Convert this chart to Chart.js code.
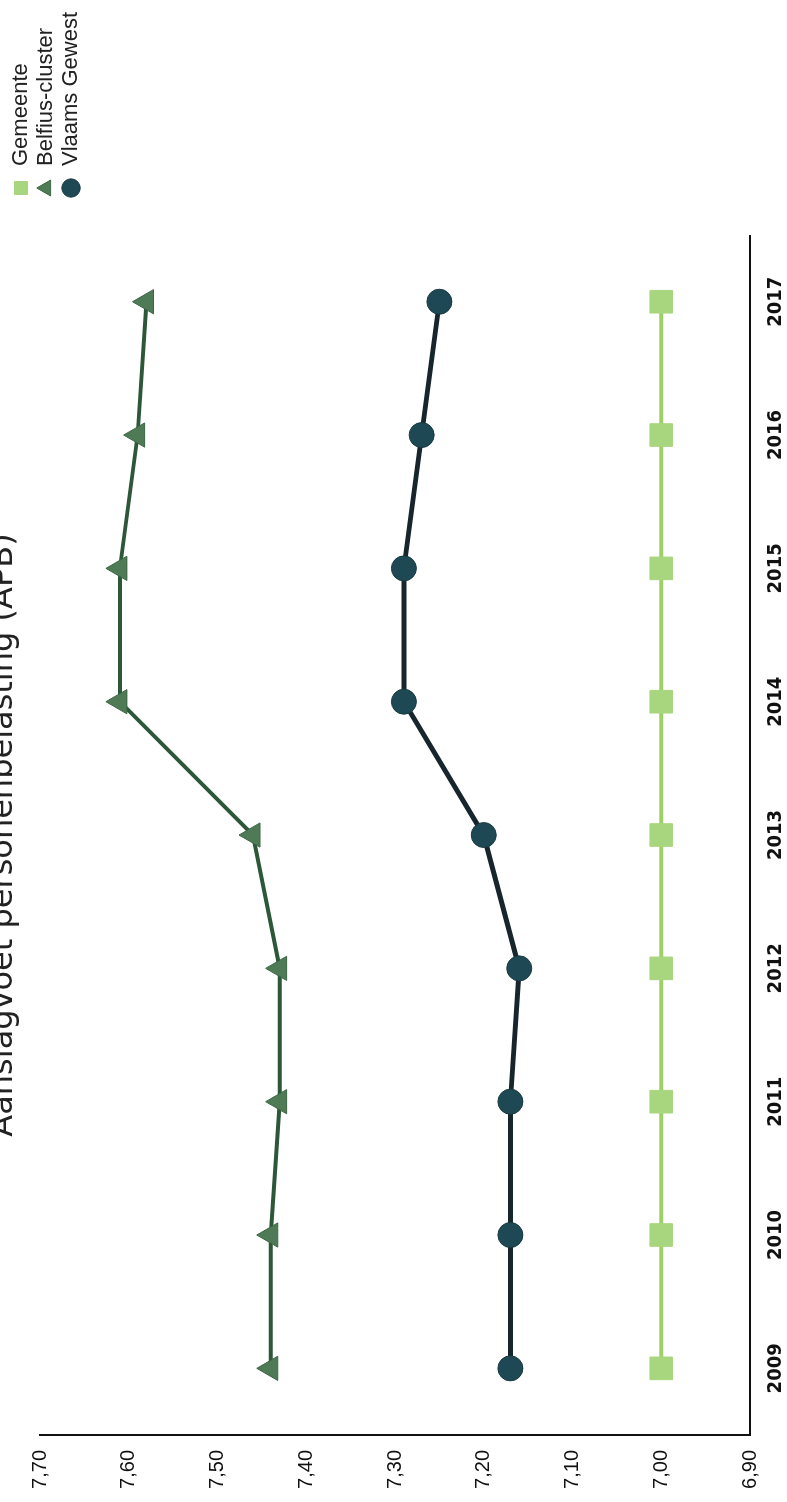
<!DOCTYPE html>
<html>
<head>
<meta charset="utf-8">
<script src="https://cdn.jsdelivr.net/npm/chart.js@4.4.1/dist/chart.umd.min.js"></script>
<style>
  html, body { margin: 0; padding: 0; background: #fff; }
  body { width: 787px; height: 1502px; overflow: hidden; position: relative; }
  /* the scan is turned a quarter turn: draw a landscape chart and rotate it */
  #turn {
    position: absolute; left: 0; top: 0;
    width: 1502px; height: 787px; overflow: hidden;
    transform-origin: 0 0;
    transform: translate(0, 1502px) rotate(-90deg);
  }
  #holder { position: absolute; left: 0; top: -30px; width: 1502px; height: 817px; }
</style>
</head>
<body>
<div id="turn"><div id="holder"><canvas id="apbChart" width="1502" height="817"></canvas></div></div>
<script>
// Data
const years = ["2009", "2010", "2011", "2012", "2013", "2014", "2015", "2016", "2017"];
const gemeente = [7.00, 7.00, 7.00, 7.00, 7.00, 7.00, 7.00, 7.00, 7.00];
const belfiusCluster = [7.44, 7.44, 7.43, 7.43, 7.46, 7.61, 7.61, 7.59, 7.58];
const vlaamsGewest = [7.17, 7.17, 7.17, 7.16, 7.20, 7.29, 7.29, 7.27, 7.25];
const yMin = 6.90;
const yMax = 7.70;
const yStep = 0.10;

const LEGEND_LEFT = 1300;
const LEGEND_TOP = 37;

// Put the legend in the top right corner, like the scan
const legendCorner = {
  id: "legendCorner",
  afterLayout(chart) {
    const lg = chart.legend;
    if (!lg) return;
    const w = lg.width, h = lg.height;
    lg.left = LEGEND_LEFT; lg.right = LEGEND_LEFT + w;
    lg.top = LEGEND_TOP; lg.bottom = LEGEND_TOP + h;
  }
};

const ctx = document.getElementById("apbChart").getContext("2d");
new Chart(ctx, {
  type: "line",
  data: {
    labels: years,
    datasets: [
      {
        label: "Gemeente",
        data: gemeente,
        borderColor: "#9fd068",
        backgroundColor: "#a8d67f",
        borderWidth: 4,
        pointStyle: "rect",
        pointRadius: 16,
        pointBackgroundColor: "#a8d67f",
        pointBorderColor: "#a8d67f",
        pointBorderWidth: 1,
        tension: 0
      },
      {
        label: "Belfius-cluster",
        data: belfiusCluster,
        borderColor: "#2c5738",
        backgroundColor: "#4e7b56",
        borderWidth: 4,
        pointStyle: "triangle",
        pointRadius: 14,
        pointBackgroundColor: "#4e7b56",
        pointBorderColor: "#3d6646",
        pointBorderWidth: 1,
        tension: 0
      },
      {
        label: "Vlaams Gewest",
        data: vlaamsGewest,
        borderColor: "#17262d",
        backgroundColor: "#1e4853",
        borderWidth: 5,
        pointStyle: "circle",
        pointRadius: 12.5,
        pointBackgroundColor: "#1e4853",
        pointBorderColor: "#1a3a42",
        pointBorderWidth: 1,
        tension: 0
      }
    ]
  },
  options: {
    responsive: false,
    animation: false,
    layout: { padding: { top: 0, right: 35, bottom: 0, left: 0 } },
    plugins: {
      title: {
        display: true,
        text: "Aanslagvoet personenbelasting (APB)",
        fullSize: false,
        color: "#222",
        font: { family: "'DejaVu Sans', sans-serif", size: 32, weight: "normal", lineHeight: 1.2 },
        padding: { top: 14.2, bottom: 17.4 }
      },
      legend: {
        position: "right",
        align: "start",
        labels: {
          usePointStyle: true,
          boxHeight: 13,
          padding: 3,
          color: "#222",
          font: { family: "'Liberation Sans', Arial, sans-serif", size: 22 }
        }
      },
      tooltip: { enabled: false }
    },
    scales: {
      x: {
        type: "category",
        offset: true,
        grid: { display: false, drawTicks: false },
        border: { display: true, color: "#111", width: 2 },
        ticks: {
          color: "#111",
          padding: 14,
          maxRotation: 0,
          font: { family: "'Liberation Sans Narrow', 'DejaVu Sans Condensed', Arial, sans-serif", size: 20, weight: "bold" }
        },
        afterFit: (scale) => { scale.height = 37; }
      },
      y: {
        min: yMin,
        max: yMax,
        grid: { display: false, drawTicks: false },
        border: { display: true, color: "#111", width: 2 },
        ticks: {
          stepSize: yStep,
          color: "#111",
          padding: 15,
          font: { family: "'Liberation Sans', Arial, sans-serif", size: 20 },
          callback: (v) => Number(v).toFixed(2).replace(".", ",")
        },
        afterFit: (scale) => { scale.width = 67; }
      }
    }
  },
  plugins: [legendCorner]
});
</script>
</body>
</html>
